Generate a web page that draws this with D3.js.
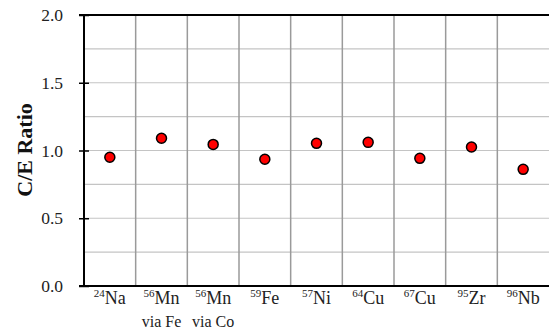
<!DOCTYPE html>
<html><head><meta charset="utf-8">
<script src="https://cdn.jsdelivr.net/npm/d3@7"></script>
<style>body{margin:0;background:#fff}svg{display:block}</style>
</head><body>
<svg id="c" width="549" height="332"></svg>
<script>
const masses = ["24","56","56","59","57","64","67","95","96"];
const elements = ["Na","Mn","Mn","Fe","Ni","Cu","Cu","Zr","Nb"];
const sublabels = ["","via Fe","via Co","","","","","",""];
const categories = masses.map((m,i)=>m+elements[i]+(sublabels[i]?" "+sublabels[i]:""));
const ratios = [0.95,1.09,1.045,0.935,1.053,1.06,0.942,1.026,0.861];
const yTicks = [0,0.5,1.0,1.5,2.0];
const yGrid = [0.25,0.5,0.75,1.0,1.25,1.5,1.75];

const svg = d3.select("#c");
const L=84, R=549, T=15, B=286;
const FONT = "Liberation Serif";
const x = d3.scaleBand().domain(categories).range([L,R]).padding(0);
const y = d3.scaleLinear().domain([0,2]).range([B,T]);

// horizontal grid
const gridG = svg.append("g").attr("class","hgrid");
yGrid.forEach(v => {
  gridG.append("line")
    .attr("x1",L).attr("x2",R).attr("y1",y(v)).attr("y2",y(v))
    .attr("stroke","#c4c4c4").attr("stroke-width",1.2);
});
// vertical separators
svg.append("g").selectAll("line").data(categories.slice(1)).join("line")
  .attr("x1",d=>x(d)).attr("x2",d=>x(d)).attr("y1",T).attr("y2",B)
  .attr("stroke","#9a9a9a").attr("stroke-width",1.5);

// top border
svg.append("line").attr("x1",79).attr("x2",R).attr("y1",y(2)).attr("y2",y(2))
  .attr("stroke","#000").attr("stroke-width",2);

// y axis
const ya = svg.append("g").attr("transform",`translate(${L},0)`)
  .call(d3.axisLeft(y).tickValues(yTicks).tickFormat(d3.format(".1f")).tickSize(5).tickPadding(16));
ya.attr("font-family",FONT).attr("font-size",17.5);
ya.select(".domain").attr("stroke","#000").attr("stroke-width",2).attr("d",`M0,${T}V${B}`);
ya.selectAll(".tick line").attr("x1",-5).attr("x2",5).attr("stroke","#000").attr("stroke-width",1.5);
ya.selectAll(".tick text").attr("fill","#222");

// bottom axis line
svg.append("line").attr("x1",79).attr("x2",R).attr("y1",B).attr("y2",B)
  .attr("stroke","#000").attr("stroke-width",2);

// x labels
const xl = svg.append("g").selectAll("text").data(categories).join("text")
  .attr("x",d=>x(d)+x.bandwidth()/2).attr("y",304)
  .attr("text-anchor","middle").attr("font-family",FONT).attr("font-size",18).attr("fill","#222");
xl.append("tspan").attr("font-size",11).attr("dy",-7).text((d,i)=>masses[i]);
xl.append("tspan").attr("dy",7).text((d,i)=>elements[i]);
svg.append("g").selectAll("text").data(categories).join("text")
  .attr("x",d=>x(d)+x.bandwidth()/2).attr("y",327)
  .attr("text-anchor","middle").attr("font-family",FONT).attr("font-size",16).attr("fill","#222")
  .text((d,i)=>sublabels[i]);

// y title
svg.append("text").attr("transform",`translate(32,150) rotate(-90)`)
  .attr("text-anchor","middle").attr("font-family",FONT).attr("font-weight","bold")
  .attr("font-size",22).attr("fill","#111").text("C/E Ratio");

// points
svg.append("g").selectAll("circle").data(ratios).join("circle")
  .attr("cx",(d,i)=>x(categories[i])+x.bandwidth()/2).attr("cy",d=>y(d)).attr("r",5)
  .attr("fill","#ff0000").attr("stroke","#000").attr("stroke-width",1.5);
</script>
</body></html>
